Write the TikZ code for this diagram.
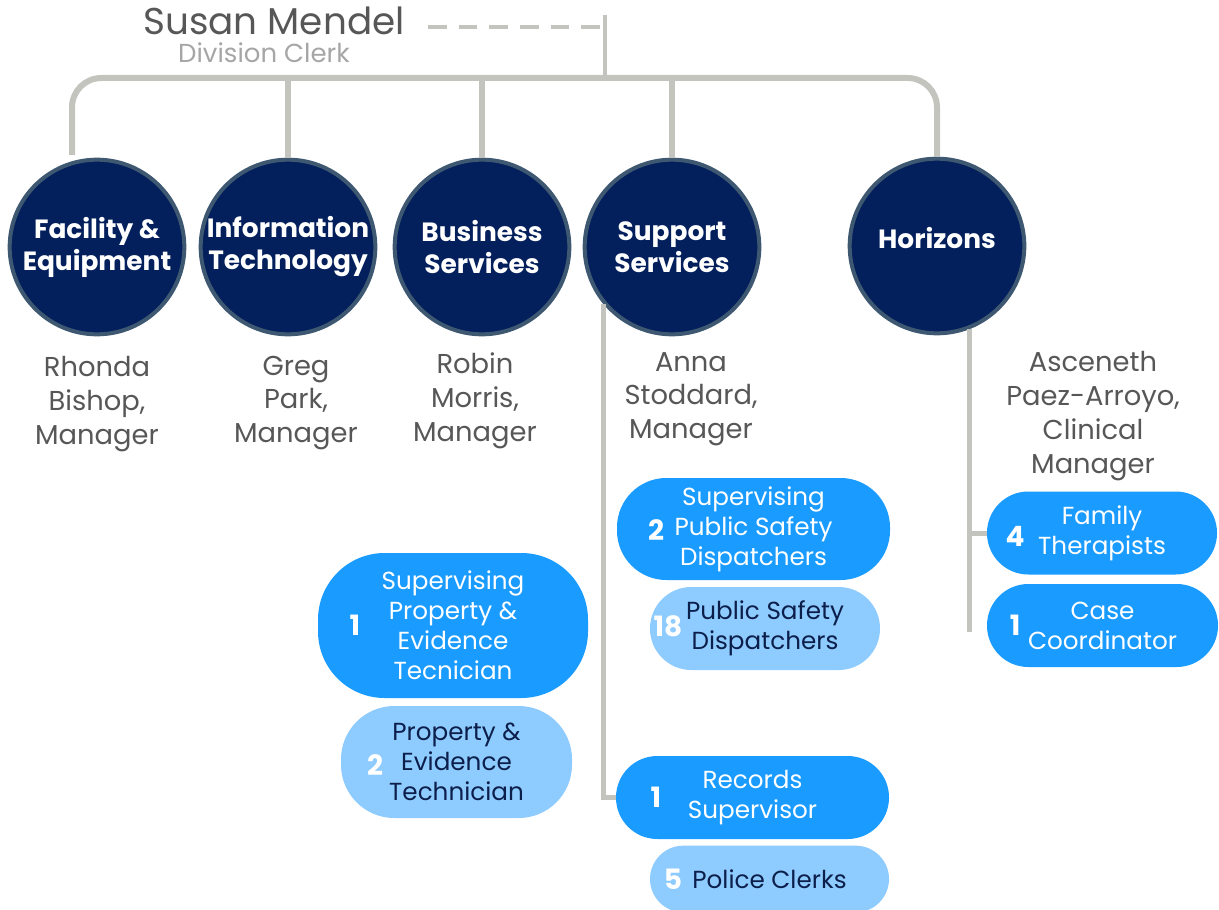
\documentclass[tikz,border=0pt]{standalone}
\usepackage{fontspec}
\setmainfont{Poppins}
\usetikzlibrary{positioning,calc}
\definecolor{navy}{HTML}{03205C}
\definecolor{rim}{HTML}{3E5872}
\definecolor{linkgray}{HTML}{C4C4BE}
\definecolor{bright}{HTML}{1A9BFF}
\definecolor{pale}{HTML}{8ECBFF}
\definecolor{ink}{HTML}{0C1E4A}
\definecolor{namegray}{HTML}{575757}
\definecolor{clerkgray}{HTML}{A6A6A6}

\begin{document}
\begin{tikzpicture}[x=0.75pt,y=-0.75pt,
    unit/.style={circle,fill=navy,draw=rim,line width=3pt,minimum size=131pt,
      inner sep=0pt,text=white,align=center,font=\fontsize{19.8}{24}\selectfont\bfseries},
    boss/.style={text=namegray,align=center,font=\fontsize{20.5}{25.3}\selectfont},
    pill/.style={rounded corners=31pt,inner sep=0pt,align=center,
      font=\fontsize{18.5}{22.5}\selectfont},
    lead/.style={pill,fill=bright,text=white},
    staff/.style={pill,fill=pale,text=ink},
    count/.style={text=white,inner sep=0pt,font=\fontsize{21}{24}\selectfont\bfseries},
    link/.style={draw=linkgray,line width=4.5pt}]
      \useasboundingbox (0,0) rectangle (1219,909);

      % division clerk
      \node[text=namegray,font=\fontsize{28}{32}\selectfont] (susan) at (274,21) {Susan Mendel};
      \node[text=clerkgray,font=\fontsize{19.5}{22}\selectfont] (clerk) at (264,53) {Division Clerk};
      \coordinate (head) at (605,15);
      \coordinate (bar) at (605,78);
      \coordinate (facTop) at (72,155);
      \draw[link,line width=3pt] (head) -- (bar);
      \draw[link,line width=3pt,dash pattern=on 14pt off 9pt] (428,27) -- (head |- 0,27);

      % units
      \node[unit] (fac) at (97,247) {Facility \&\\Equipment};
      \node[unit] (it) at (288,247) {Information\\Technology};
      \node[unit] (bus) at (482,247) {Business\\Services};
      \node[unit] (sup) at (672,247) {Support\\Services};
      \node[unit,text depth=12pt] (hor) at (937,246) {Horizons};

      \draw[link,rounded corners=22pt] (facTop) |- (bar) -| (hor.north);
      \foreach \u in {it,bus,sup}
        \draw[link] (\u.north) -- (\u.north |- bar);

      % managers
      \node[boss] (mgrFac) at (97,404) {Rhonda\\Bishop,\\Manager};
      \node[boss] (mgrIt) at (296,403) {Greg\\Park,\\Manager};
      \node[boss] (mgrBus) at (475,401) {Robin\\Morris,\\Manager};
      \node[boss] (mgrSup) at (691,399) {Anna\\Stoddard,\\Manager};
      \node[boss] (mgrHor) at (1093,416) {Asceneth\\Paez-Arroyo,\\Clinical\\Manager};

      % staff
      \node[lead,minimum width=204.75pt,minimum height=76.5pt,rounded corners=37pt] (supPsd) at (753.5,529) {Supervising\\Public Safety\\Dispatchers};
      \node[staff,minimum width=172.5pt,minimum height=62.25pt] (psd) at (765,628.5) {Public Safety\\Dispatchers};
      \node[lead,minimum width=202.5pt,minimum height=108.75pt,rounded corners=50pt] (supPe) at (453,625.5) {Supervising\\Property \&\\Evidence\\Tecnician};
      \node[staff,minimum width=173.25pt,minimum height=84pt,rounded corners=40pt] (pe) at (456.5,762) {Property \&\\Evidence\\Technician};
      \node[lead,minimum width=204.75pt,minimum height=62.25pt] (recSup) at (752.5,797.5) {Records\\Supervisor};
      \node[staff,minimum width=179.25pt,minimum height=50pt,rounded corners=25pt] (clerks) at (769.5,879) {Police Clerks};
      \node[lead,minimum width=172.5pt,minimum height=62.25pt] (famTher) at (1102,533) {Family\\Therapists};
      \node[lead,minimum width=173.25pt,minimum height=62.25pt] (caseCo) at (1102.5,625.5) {Case\\Coordinator};

      \node[count] at (656,530) {2};
      \node[count] at (668,626) {18};
      \node[count] at (355,625) {1};
      \node[count] at (375,765) {2};
      \node[count] at (656,797) {1};
      \node[count] at (673,879) {5};
      \node[count] at (1015,536) {4};
      \node[count] at (1015,625) {1};

      \draw[link,line width=3.75pt] (sup.220.5) |- (recSup.west);
      \draw[link,line width=3.75pt] (hor.291.7) -- (hor.291.7 |- 0,632);
      \draw[link,line width=3.75pt] (hor.291.7 |- famTher.west) -- (famTher.west);
    \end{tikzpicture}
\end{document}
